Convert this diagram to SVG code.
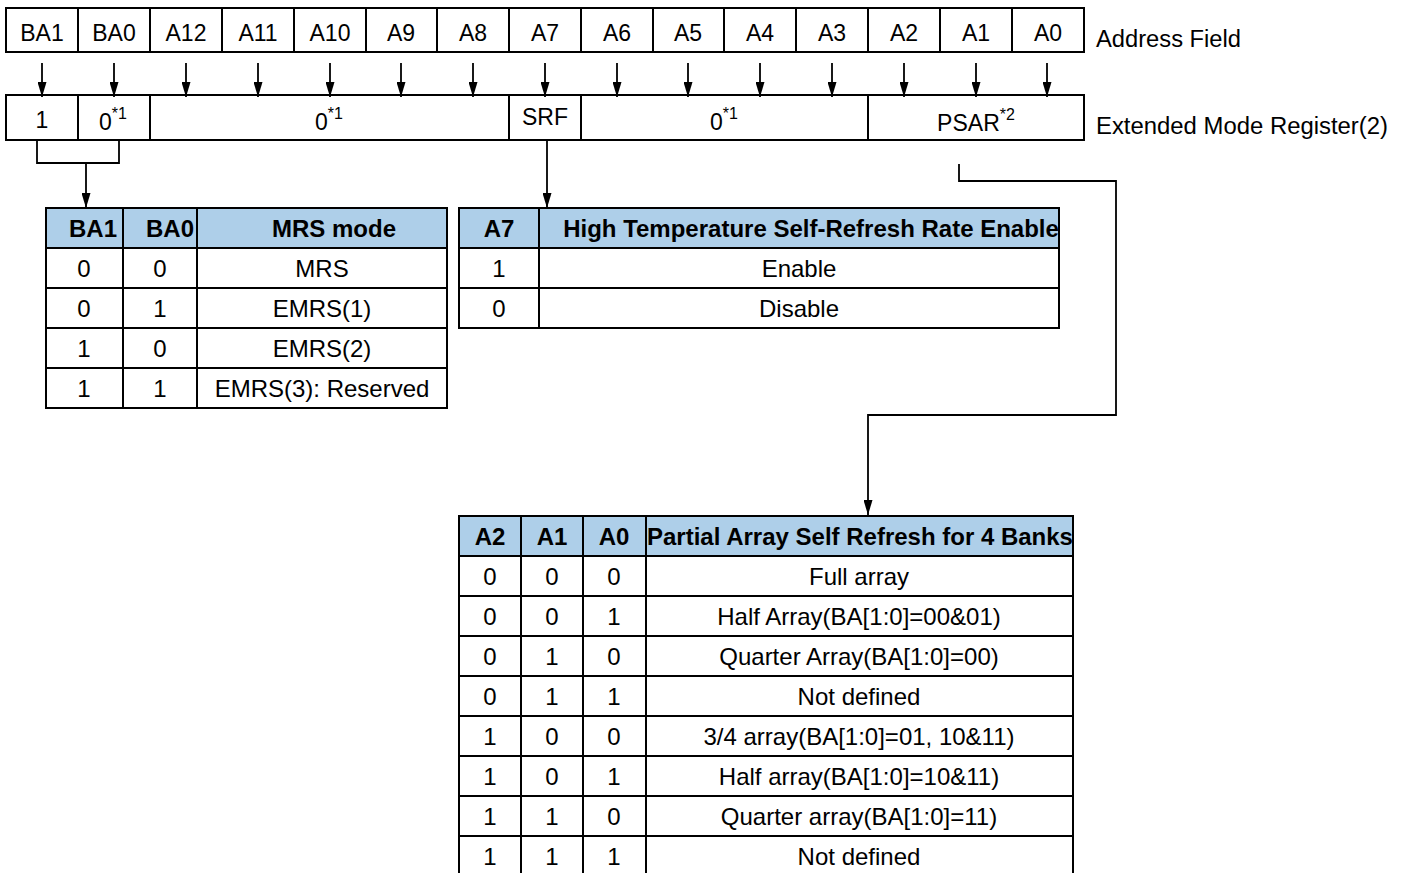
<svg xmlns="http://www.w3.org/2000/svg" width="1405" height="873" viewBox="0 0 1405 873">
<style>
text{font-family:"Liberation Sans",Arial,sans-serif;font-size:24px;fill:#000}
.t{font-size:23px}
.c{text-anchor:middle}
.b{font-weight:bold}
.sup{font-size:16px}
.box{fill:none;stroke:#000;stroke-width:2}
.ln{stroke:#000;stroke-width:2;fill:none}
.hd{fill:#aecfe9}
.cn{stroke:#000;stroke-width:1.8;fill:none}
.ar{stroke:#000;stroke-width:1.8;fill:none;marker-end:url(#ah)}
</style>
<defs>
<marker id="ah" markerWidth="15" markerHeight="9" refX="15" refY="4.5" orient="auto" markerUnits="userSpaceOnUse" viewBox="0 0 15 9">
<path d="M0,0 L15,4.5 L0,9 Z" fill="#000"/>
</marker>
</defs>
<rect width="1405" height="873" fill="#fff"/>

<g id="address-field">
<rect class="box" x="6" y="8" width="1078" height="44"/>
<path class="ln" d="M78,8V52M150,8V52M222,8V52M294,8V52M366,8V52M437,8V52M509,8V52M581,8V52M653,8V52M724,8V52M796,8V52M868,8V52M940,8V52M1012,8V52"/>
<text class="c t" x="42" y="41">BA1</text>
<text class="c t" x="114" y="41">BA0</text>
<text class="c t" x="186" y="41">A12</text>
<text class="c t" x="258" y="41">A11</text>
<text class="c t" x="330" y="41">A10</text>
<text class="c t" x="401" y="41">A9</text>
<text class="c t" x="473" y="41">A8</text>
<text class="c t" x="545" y="41">A7</text>
<text class="c t" x="617" y="41">A6</text>
<text class="c t" x="688" y="41">A5</text>
<text class="c t" x="760" y="41">A4</text>
<text class="c t" x="832" y="41">A3</text>
<text class="c t" x="904" y="41">A2</text>
<text class="c t" x="976" y="41">A1</text>
<text class="c t" x="1048" y="41">A0</text>
<text class="t" x="1096" y="47" textLength="145" lengthAdjust="spacingAndGlyphs">Address Field</text>
</g>

<g id="emr2">
<rect class="box" x="6" y="95" width="1078" height="45"/>
<path class="ln" d="M78,95V140M150,95V140M509,95V140M581,95V140M868,95V140"/>
<text class="c t" x="42" y="128">1</text>
<text class="c t" x="113" y="130">0<tspan class="sup" dy="-11">*1</tspan></text>
<text class="c t" x="329" y="130">0<tspan class="sup" dy="-11">*1</tspan></text>
<text class="c t" x="545" y="125">SRF</text>
<text class="c t" x="724" y="130">0<tspan class="sup" dy="-11">*1</tspan></text>
<text class="c t" x="976" y="131">PSAR<tspan class="sup" dy="-11">*2</tspan></text>
<text class="t" x="1096" y="134" textLength="292" lengthAdjust="spacingAndGlyphs">Extended Mode Register(2)</text>
</g>

<g id="connectors">
<path class="ar" d="M42,63V97"/>
<path class="ar" d="M114,63V97"/>
<path class="ar" d="M186,63V97"/>
<path class="ar" d="M258,63V97"/>
<path class="ar" d="M330,63V97"/>
<path class="ar" d="M401,63V97"/>
<path class="ar" d="M473,63V97"/>
<path class="ar" d="M545,63V97"/>
<path class="ar" d="M617,63V97"/>
<path class="ar" d="M688,63V97"/>
<path class="ar" d="M760,63V97"/>
<path class="ar" d="M832,63V97"/>
<path class="ar" d="M904,63V97"/>
<path class="ar" d="M976,63V97"/>
<path class="ar" d="M1047,63V97"/>
<path class="cn" d="M37,140V163H119V140"/>
<path class="ar" d="M86,163V208"/>
<path class="ar" d="M547,140V208"/>
<path class="ar" d="M959,164V181H1116V415H868V515"/>
</g>

<g id="mrs-table">
<rect class="hd" x="46" y="208" width="401" height="40"/>
<rect class="box" x="46" y="208" width="401" height="200"/>
<path class="ln" d="M46,248H447M46,288H447M46,328H447M46,368H447M123,208V408M197,208V408"/>
<text class="c b" x="93" y="237">BA1</text>
<text class="c b" x="170" y="237">BA0</text>
<text class="c b" x="334" y="237">MRS mode</text>
<text class="c" x="84" y="277">0</text><text class="c" x="160" y="277">0</text><text class="c" x="322" y="277">MRS</text>
<text class="c" x="84" y="317">0</text><text class="c" x="160" y="317">1</text><text class="c" x="322" y="317">EMRS(1)</text>
<text class="c" x="84" y="357">1</text><text class="c" x="160" y="357">0</text><text class="c" x="322" y="357">EMRS(2)</text>
<text class="c" x="84" y="397">1</text><text class="c" x="160" y="397">1</text><text class="c" x="322" y="397">EMRS(3): Reserved</text>
</g>

<g id="srf-table">
<rect class="hd" x="459" y="208" width="600" height="40"/>
<rect class="box" x="459" y="208" width="600" height="120"/>
<path class="ln" d="M459,248H1059M459,288H1059M539,208V328"/>
<text class="c b" x="499" y="237">A7</text>
<text class="c b" x="811" y="237">High Temperature Self-Refresh Rate Enable</text>
<text class="c" x="499" y="277">1</text><text class="c" x="799" y="277">Enable</text>
<text class="c" x="499" y="317">0</text><text class="c" x="799" y="317">Disable</text>
</g>

<g id="psar-table">
<rect class="hd" x="459" y="516" width="614" height="40"/>
<rect class="box" x="459" y="516" width="614" height="360"/>
<path class="ln" d="M459,556H1073M459,596H1073M459,636H1073M459,676H1073M459,716H1073M459,756H1073M459,796H1073M459,836H1073M521,516V876M583,516V876M646,516V876"/>
<text class="c b" x="490" y="545">A2</text>
<text class="c b" x="552" y="545">A1</text>
<text class="c b" x="614" y="545">A0</text>
<text class="c b" x="860" y="545">Partial Array Self Refresh for 4 Banks</text>
<text class="c" x="490" y="585">0</text><text class="c" x="552" y="585">0</text><text class="c" x="614" y="585">0</text><text class="c" x="859" y="585">Full array</text>
<text class="c" x="490" y="625">0</text><text class="c" x="552" y="625">0</text><text class="c" x="614" y="625">1</text><text class="c" x="859" y="625">Half Array(BA[1:0]=00&amp;01)</text>
<text class="c" x="490" y="665">0</text><text class="c" x="552" y="665">1</text><text class="c" x="614" y="665">0</text><text class="c" x="859" y="665">Quarter Array(BA[1:0]=00)</text>
<text class="c" x="490" y="705">0</text><text class="c" x="552" y="705">1</text><text class="c" x="614" y="705">1</text><text class="c" x="859" y="705">Not defined</text>
<text class="c" x="490" y="745">1</text><text class="c" x="552" y="745">0</text><text class="c" x="614" y="745">0</text><text class="c" x="859" y="745">3/4 array(BA[1:0]=01, 10&amp;11)</text>
<text class="c" x="490" y="785">1</text><text class="c" x="552" y="785">0</text><text class="c" x="614" y="785">1</text><text class="c" x="859" y="785">Half array(BA[1:0]=10&amp;11)</text>
<text class="c" x="490" y="825">1</text><text class="c" x="552" y="825">1</text><text class="c" x="614" y="825">0</text><text class="c" x="859" y="825">Quarter array(BA[1:0]=11)</text>
<text class="c" x="490" y="865">1</text><text class="c" x="552" y="865">1</text><text class="c" x="614" y="865">1</text><text class="c" x="859" y="865">Not defined</text>
</g>
</svg>
